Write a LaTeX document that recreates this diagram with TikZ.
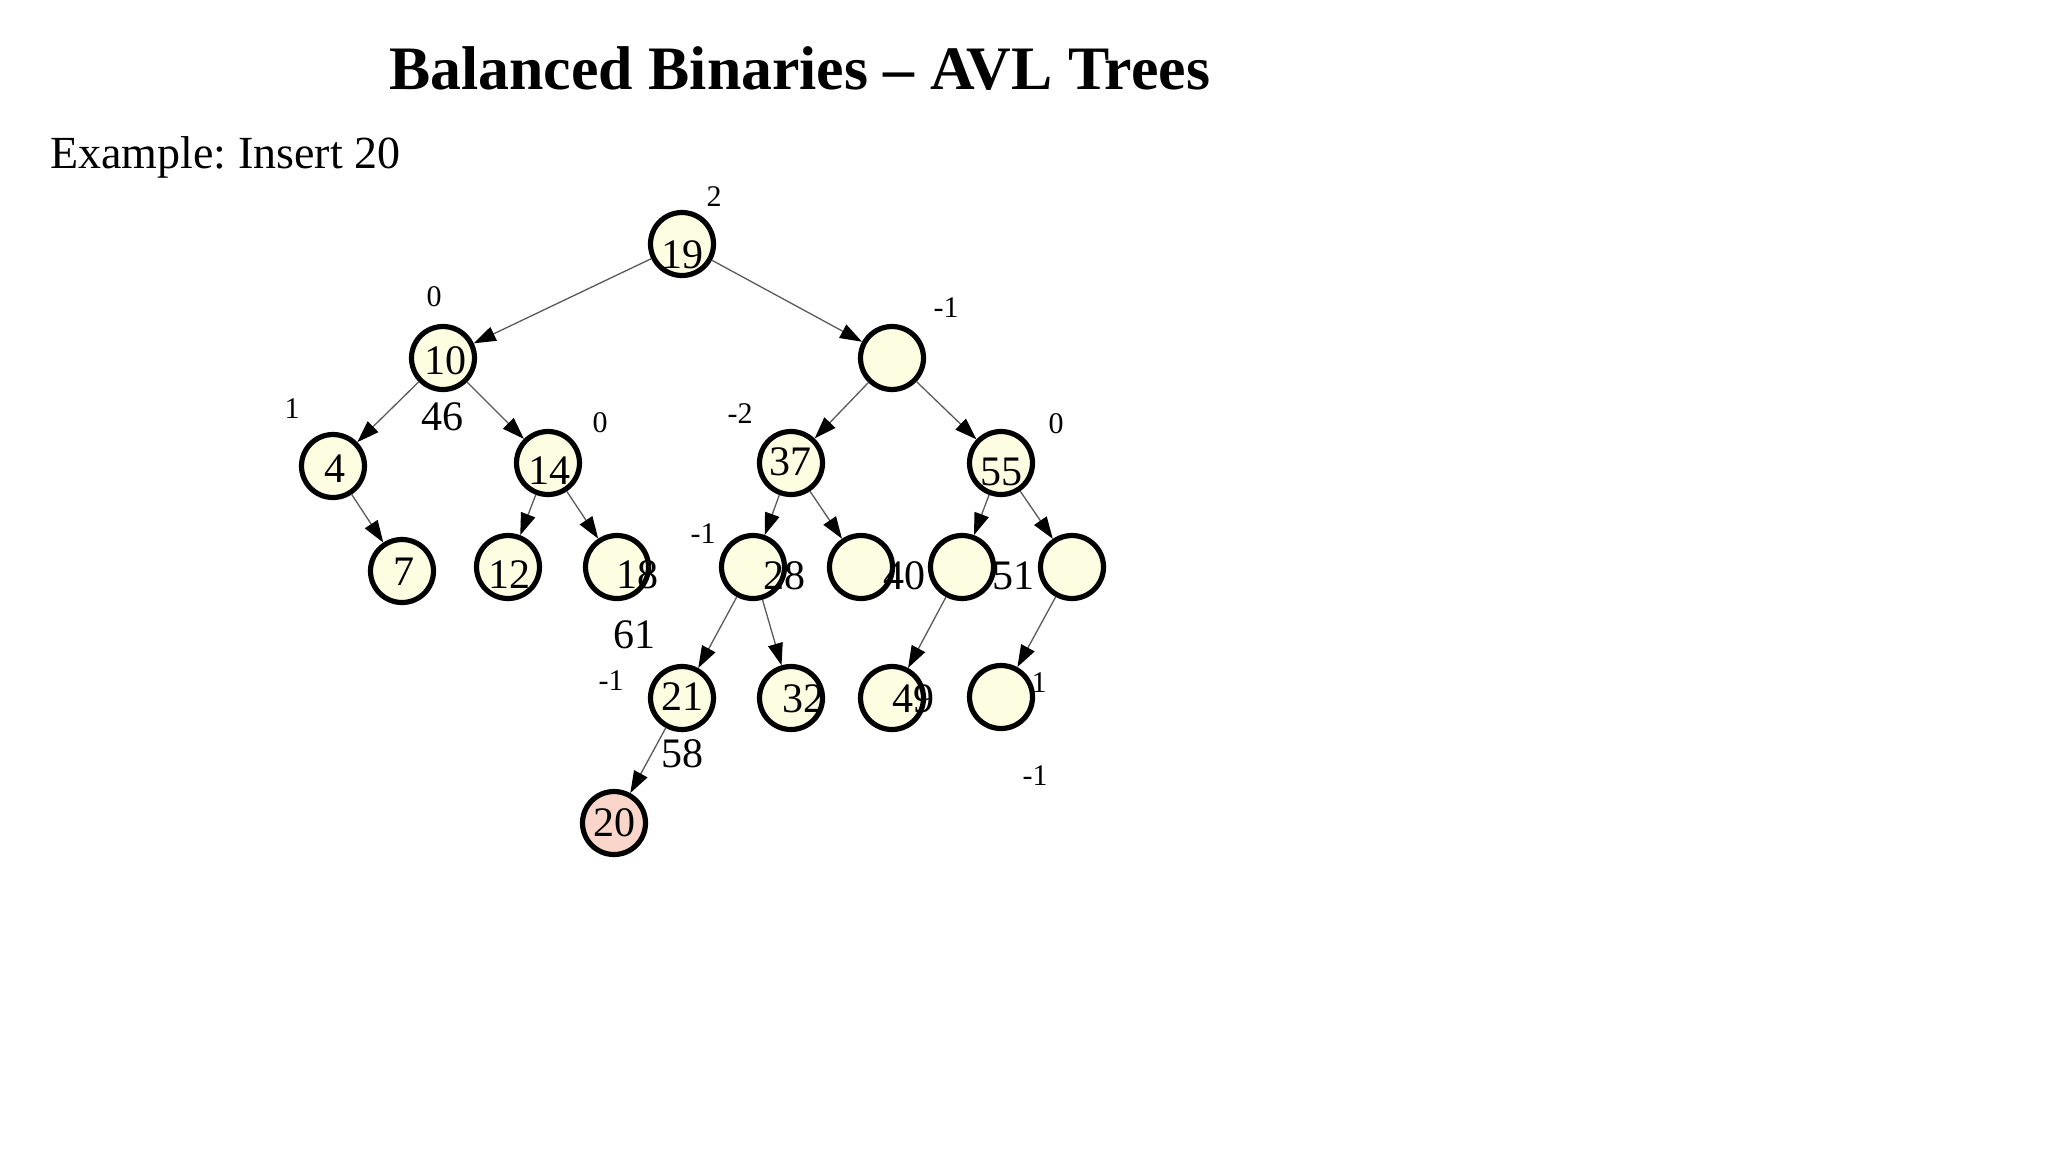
\documentclass[tikz,border=0pt]{standalone}
\usepackage{fontspec}
\setmainfont{Liberation Serif}
\usetikzlibrary{arrows.meta}
\definecolor{nodefill}{HTML}{FDFDE1}
\definecolor{newfill}{HTML}{F9D5CA}
\definecolor{edgegray}{HTML}{5A5A5A}
\begin{document}
\frenchspacing
\begin{tikzpicture}[x=0.5pt,y=-0.5pt,
  avl/.style={circle,draw=black,line width=2.6pt,fill=nodefill,minimum size=31.5pt,inner sep=0pt},
  num/.style={inner sep=0pt,font=\fontsize{21pt}{21pt}\selectfont},
  bal/.style={inner sep=0pt,font=\fontsize{15pt}{15pt}\selectfont},
  link/.style={draw=edgegray,line width=0.65pt,-{Triangle[length=11pt,width=7.5pt,color=black]}}]
\useasboundingbox[fill=white] (0,0) rectangle (2048,1152);
% titles
\node[anchor=base west,inner sep=0pt,font=\fontsize{30.9pt}{30.9pt}\selectfont\bfseries] (title) at (389,89) {Balanced Binaries – AVL Trees};
\node[anchor=base west,inner sep=0pt,font=\fontsize{23pt}{23pt}\selectfont] (example) at (50,168) {Example: Insert 20};
% label hidden behind a node
\node[bal] (bE) at (1034,683) {-1};
% nodes
\node[avl] (n19) at (682,244) {};
\node[avl] (n10) at (443,358) {};
\node[avl] (nR) at (892,358) {};
\node[avl] (n4) at (333,466) {};
\node[avl] (n14) at (548,463) {};
\node[avl] (n37) at (791,463) {};
\node[avl] (n55) at (1001,463) {};
\node[avl] (n7) at (402,571) {};
\node[avl] (n12) at (508,567) {};
\node[avl] (n18) at (617,567) {};
\node[avl] (n28) at (753,567) {};
\node[avl] (n40) at (861,567) {};
\node[avl] (n51) at (962,567) {};
\node[avl] (nRR) at (1072,567) {};
\node[avl] (n21) at (682,698) {};
\node[avl] (n32) at (791,698) {};
\node[avl] (n49) at (892,698) {};
\node[avl] (nE) at (1001,697) {};
\node[avl,fill=newfill] (n20) at (614,823) {};
% edges
\draw[link] (n19) -- (n10);
\draw[link] (n19) -- (nR);
\draw[link] (n10) -- (n4);
\draw[link] (n10) -- (n14);
\draw[link] (nR) -- (n37);
\draw[link] (nR) -- (n55);
\draw[link] (n4) -- (n7);
\draw[link] (n14) -- (n12);
\draw[link] (n14) -- (n18);
\draw[link] (n37) -- (n28);
\draw[link] (n37) -- (n40);
\draw[link] (n55) -- (n51);
\draw[link] (n55) -- (nRR);
\draw[link] (n28) -- (n21);
\draw[link] (n28) -- (n32);
\draw[link] (n51) -- (n49);
\draw[link] (nRR) -- (nE);
\draw[link] (n21) -- (n20);
% numbers
\node[num] (t19) at (682,255) {19};
\node[num] (t10) at (445,361) {10};
\node[num] (t46) at (442,417) {46};
\node[num] (t4) at (335,469) {4};
\node[num] (t14) at (549,471) {14};
\node[num] (t37) at (790,462) {37};
\node[num] (t55) at (1001,472) {55};
\node[num] (t7) at (404,572) {7};
\node[num] (t12) at (509,575) {12};
\node[num] (t18) at (637,575) {18};
\node[num] (t28) at (784,576) {28};
\node[num] (t40) at (904,576) {40};
\node[num] (t51) at (1013,576) {51};
\node[num] (t61) at (634,635) {61};
\node[num] (t21) at (682,697) {21};
\node[num] (t32) at (803,699) {32};
\node[num] (t49) at (913,699) {49};
\node[num] (t58) at (682,754) {58};
\node[num] (t20) at (614,823) {20};
% balance factors
\node[bal] (b19) at (714,197) {2};
\node[bal] (b10) at (434,297) {0};
\node[bal] (bR) at (946,308) {-1};
\node[bal] (b4) at (292,409) {1};
\node[bal] (b14) at (600,423) {0};
\node[bal] (b37) at (740,414) {-2};
\node[bal] (b55) at (1056,424) {0};
\node[bal] (b28) at (703,534) {-1};
\node[bal] (b21) at (611,681) {-1};
\node[bal] (bL) at (1035,776) {-1};
\end{tikzpicture}
\end{document}
